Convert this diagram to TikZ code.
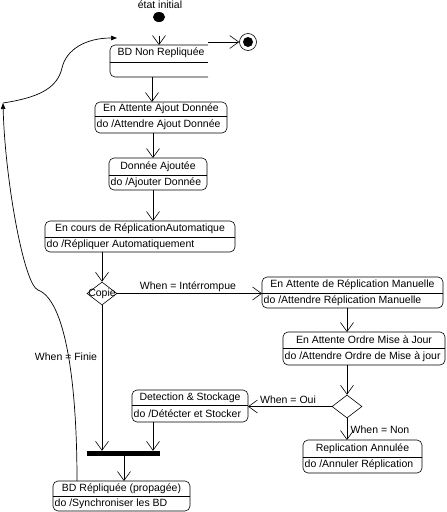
\documentclass[tikz,border=0pt]{standalone}
\usepackage{fontspec}
\setmainfont{Liberation Sans}
\usetikzlibrary{arrows.meta,shapes.geometric}
\tikzset{
  txt/.style={font=\fontsize{10.5}{12}\selectfont, inner sep=0pt},
  sbox/.style={draw, rounded corners=5pt, line width=0.6pt, inner sep=0pt, outer sep=0pt},
  act/.style={txt, anchor=west, xshift=1.5pt},
  flow/.style={line width=0.6pt, -{Straight Barb[length=9pt,width=13pt,line width=0.6pt]}},
  back/.style={line width=0.7pt, -{Triangle[length=6pt,width=4.5pt]}},
  choice/.style={diamond, draw, minimum width=30pt, minimum height=23pt, inner sep=0pt, line width=0.6pt},
}
% name, x1, y1, x2, y2, ydiv, title, action
\newcommand\umlstate[8]{%
  \node[sbox, minimum width={(#4-#2)*1pt}, minimum height={(#5-#3)*1pt}] (#1) at ({(#2+#4)/2},{(#3+#5)/2}) {};
  \draw[line width=0.6pt] (#2,#6) -- (#4,#6);
  \node[txt] (#1-t) at ({(#2+#4)/2},{(#3+#6)/2}) {#7};
  \node[act] (#1-a) at (#2,{(#6+#5)/2}) {#8};
}
\begin{document}
\begin{tikzpicture}[x=1pt,y=-1pt]
\useasboundingbox (0,0) rectangle (447,512);

% initial and final states
\node[txt] (initlbl) at (160,5) {état initial};
\node[ellipse, fill, minimum width=12pt, minimum height=10pt, inner sep=0pt] (init) at (159,17) {};
\node[circle, draw, line width=0.6pt, minimum size=17pt, inner sep=0pt] (fin) at (248,42) {};
\node[circle, fill, minimum size=10pt, inner sep=0pt] (finin) at (fin) {};

% BD Non Repliquee (open on the right)
\node[inner sep=0pt, outer sep=0pt, minimum width=98pt, minimum height=32pt] (b1) at (159,61) {};
\draw[line width=0.6pt, rounded corners=5pt] (b1.north east) -- (b1.north west) -- (b1.south west) -- (b1.south east);
\draw[line width=0.6pt] (110,62) -- (208,62);
\node[txt] (b1-t) at (161,53) {BD Non Repliquée};

\umlstate{b2}{95}{102}{227}{133}{116}{En Attente Ajout Donnée}{do /Attendre Ajout Donnée}
\umlstate{b3}{109}{158}{207}{190}{175}{Donnée Ajoutée}{do /Ajouter Donnée}
\umlstate{b4}{45}{221}{235}{252}{237}{En cours de RéplicationAutomatique}{do /Répliquer Automatiquement}
\umlstate{b6}{262}{277}{443}{308}{293}{En Attente de Réplication Manuelle}{do /Attendre Réplication Manuelle}
\umlstate{b7}{283}{332}{445}{365}{348}{En Attente Ordre Mise à Jour}{do /Attendre Ordre de Mise à jour}
\umlstate{b9}{132}{390}{248}{422}{405}{Detection \& Stockage}{do /Détécter et Stocker}
\umlstate{b10}{303}{440}{422}{473}{457}{Replication Annulée}{do /Annuler Réplication}
\umlstate{b12}{53}{481}{190}{511}{496}{BD Répliquée (propagée)}{do /Synchroniser les BD}

% choices and bar
\node[choice] (c1) at (102,293.5) {};
\node[txt] (c1-t) at (c1) {Copie};
\node[choice] (c2) at (347,406.5) {};
\node[fill, minimum width=73pt, minimum height=5pt, inner sep=0pt] (bar) at (123.5,453.5) {};

% connectors
\draw[flow, shorten <=13.5pt] (init) -- (b1.north -| init);
\draw[flow] (b1.north east |- fin) -- (fin.west);
\draw[flow] (b1.south -| 152,0) -- (b2.north -| 152,0);
\draw[flow] (b2.south -| 153,0) -- (b3.north -| 153,0);
\draw[flow] (b3.south -| 153,0) -- (b4.north -| 153,0);
\draw[flow] (b4.south -| c1) -- (c1.north);
\draw[flow] (c1.east) -- (b6.west |- c1);
\draw[flow] (b6.south -| 347,0) -- (b7.north -| 347,0);
\draw[flow] (b7.south -| c2) -- (c2.north);
\draw[flow] (c2.west) -- (b9.east |- c2);
\draw[flow] (c2.south) -- (b10.north -| c2);
\draw[flow] (b9.south -| 153,0) -- (bar.north -| 153,0);
\draw[flow] (c1.south) -- (bar.north -| c1);
\draw[flow] (bar.south -| 124,0) -- (b12.north -| 124,0);

% guard labels
\node[txt] (g1) at (188,286.5) {When = Intérrompue};
\node[txt] (g2) at (66,357) {When = Finie};
\node[txt] (g3) at (288,399.5) {When = Oui};
\node[txt] (g4) at (380,429.5) {When = Non};

% return path
\coordinate (kink) at (3,103);
\draw[back] (b12.north -| 77,0) .. controls (77,380) and (65,300) .. (38,290)
  .. controls (24,285) and (5,180) .. (kink);
\draw[back] (kink) .. controls (35,98) and (57,90) .. (62,68)
  .. controls (66,50) and (85,38) .. ([xshift=7pt,yshift=7pt]b1.north west);
\end{tikzpicture}
\end{document}
